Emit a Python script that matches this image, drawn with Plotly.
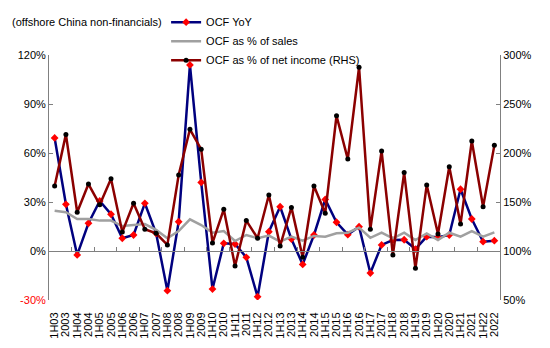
import plotly.graph_objects as go

categories = []
for yy in range(3, 23):
    categories += [f"1H{yy:02d}", f"20{yy:02d}"]

ocf_yoy = [69.2, 28.6, -2.4, 17.0, 30.6, 22.5, 7.8, 9.8, 29.2, 10.8,
           -24.3, 17.9, 113.9, 42.0, -23.3, 4.7, 4.3, -3.9, -28.0, 11.8,
           27.1, 7.3, -8.2, 9.8, 31.6, 17.6, 10.0, 14.9, -13.5, 3.7,
           6.7, 6.9, 1.2, 8.8, 8.4, 9.8, 37.8, 19.6, 5.7, 6.3]

ocf_sales = [24.7, 23.7, 19.6, 19.6, 18.6, 18.6, 15.3, 15.9, 16.5, 12.9,
             7.8, 12.2, 19.4, 15.9, 11.2, 12.2, 6.1, 9.8, 7.8, 9.4,
             5.7, 8.8, 6.3, 9.2, 8.8, 10.8, 11.2, 14.3, 8.1, 11.2,
             7.8, 11.2, 6.7, 10.8, 6.7, 11.2, 8.8, 12.2, 8.8, 11.4]

# OCF as % of net income (RHS), percent
ocf_ni = [166.3, 219.0, 139.5, 168.3, 147.3, 173.8, 119.3, 148.7, 122.2, 118.0,
          106.2, 177.5, 224.2, 203.8, 108.2, 142.5, 84.7, 131.0, 113.0, 157.2,
          105.2, 144.5, 93.5, 166.3, 138.5, 238.0, 193.8, 287.5, 122.3, 202.0,
          96.0, 180.0, 82.3, 167.3, 117.3, 186.0, 127.5, 212.2, 145.2, 207.8]

left_ticks = [-30, 0, 30, 60, 90, 120]
right_ticks = [50, 100, 150, 200, 250, 300]

FONT = "Liberation Sans, Arial, sans-serif"

fig = go.Figure()
fig.add_trace(go.Scatter(
    x=categories, y=ocf_yoy, name="OCF YoY", mode="lines+markers",
    line=dict(color="#00007F", width=2.5),
    marker=dict(symbol="diamond", color="#FF0000", size=6),
))
fig.add_trace(go.Scatter(
    x=categories, y=ocf_sales, name="OCF as % of sales", mode="lines",
    line=dict(color="#A0A0A0", width=2.5),
))
fig.add_trace(go.Scatter(
    x=categories, y=ocf_ni, name="OCF as % of net income (RHS)", mode="lines+markers",
    line=dict(color="#8B0000", width=2.5),
    marker=dict(symbol="circle", color="#000000", size=5),
    yaxis="y2",
))
# helper trace for the zero-line category axis
fig.add_trace(go.Scatter(x=categories, y=[None] * len(categories), xaxis="x2",
                         showlegend=False, hoverinfo="skip"))

left_text = ['<span style="color:#FF0000">-30%</span>' if v < 0 else f"{v}%" for v in left_ticks]

fig.update_layout(
    width=550, height=348,
    margin=dict(l=49, r=50, t=55, b=48, autoexpand=False),
    paper_bgcolor="white", plot_bgcolor="white",
    font=dict(family=FONT, size=11, color="#000000"),
    showlegend=True,
    legend=dict(xref="container", yref="container", x=0.302, y=0.978,
                xanchor="left", yanchor="top",
                bgcolor="rgba(0,0,0,0)", font=dict(size=11),
                tracegroupgap=0, itemwidth=30),
    xaxis=dict(type="category", categoryorder="array", categoryarray=categories,
               range=[-0.5, len(categories) - 0.5],
               tickmode="array", tickvals=categories, ticktext=categories,
               showline=False, showgrid=False, zeroline=False,
               ticks="outside", ticklen=7, tickcolor="rgba(0,0,0,0)",
               tickangle=-90, tickfont=dict(size=11)),
    xaxis2=dict(type="category", categoryorder="array", categoryarray=categories,
                range=[-0.5, len(categories) - 0.5], overlaying="x",
                anchor="free", position=0.2, side="bottom",
                showline=True, linecolor="#808080", linewidth=1,
                ticks="inside", tickson="boundaries", ticklen=4, tickcolor="#808080",
                showticklabels=False, showgrid=False, zeroline=False),
    yaxis=dict(range=[-30, 120], tickvals=left_ticks, ticktext=left_text,
               showline=True, linecolor="#808080", linewidth=1,
               ticks="inside", ticklen=4, tickcolor="#808080",
               showgrid=False, zeroline=False, tickfont=dict(size=11)),
    yaxis2=dict(range=[50, 300], tickvals=right_ticks,
                ticktext=[f"{v}%" for v in right_ticks],
                overlaying="y", side="right",
                showline=True, linecolor="#808080", linewidth=1,
                ticks="inside", ticklen=4, tickcolor="#808080",
                showgrid=False, zeroline=False, tickfont=dict(size=11)),
    annotations=[dict(text="(offshore China non-financials)", xref="paper", yref="paper",
                      x=-0.087, y=1.135, xanchor="left", yanchor="middle",
                      showarrow=False, font=dict(size=11))],
)

fig.write_html("out.html")
